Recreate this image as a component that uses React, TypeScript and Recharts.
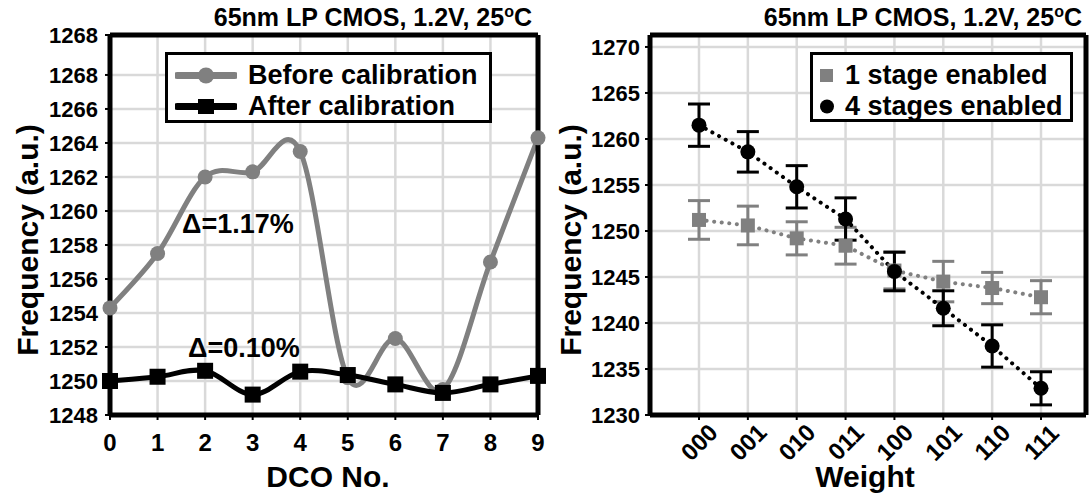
import React from 'react';
import { LineChart, Line, XAxis, YAxis, CartesianGrid, Legend, ErrorBar, Label } from 'recharts';

const FONT = '"Liberation Sans", Arial, sans-serif';
const GRAY = '#808080';
const GRID = '#d9d9d9';

// left panel: DCO spread before / after calibration
const dcoNo = ['0', '1', '2', '3', '4', '5', '6', '7', '8', '9'];
const beforeCal = [1254.3, 1257.5, 1262.0, 1262.3, 1263.5, 1250.2, 1252.5, 1249.5, 1257.0, 1264.3];
const afterCal = [1250.0, 1250.25, 1250.6, 1249.2, 1250.55, 1250.35, 1249.8, 1249.3, 1249.8, 1250.3];
const dcoTicks = [1248, 1250, 1252, 1254, 1256, 1258, 1260, 1262, 1264, 1266, 1268, 1270.35];
const dcoTickLabels = ['1248', '1250', '1252', '1254', '1256', '1258', '1260', '1262', '1264', '1266', '1268', '1268'];

// right panel: frequency vs weight code
const weights = ['000', '001', '010', '011', '100', '101', '110', '111'];
const oneStage = [1251.2, 1250.6, 1249.2, 1248.4, 1245.7, 1244.5, 1243.8, 1242.8];
const oneStageErr = [2.1, 2.1, 1.8, 2.0, 2.0, 2.2, 1.7, 1.8];
const fourStages = [1261.5, 1258.6, 1254.8, 1251.3, 1245.6, 1241.6, 1237.5, 1232.9];
const fourStagesErr = [2.3, 2.2, 2.3, 2.3, 2.1, 1.9, 2.3, 1.8];
const weightTicks = [1230, 1235, 1240, 1245, 1250, 1255, 1260, 1265, 1270];

const dcoData = dcoNo.map((d, i) => ({ dco: d, before: beforeCal[i], after: afterCal[i] }));
const weightData = weights.map((w, i) => ({
  w,
  one: oneStage[i],
  oneErr: oneStageErr[i],
  four: fourStages[i],
  fourErr: fourStagesErr[i],
}));

// excel-like smoothed line: catmull-rom through every point
const excelSmooth = (ctx: any) => {
  let pts: number[][] = [];
  return {
    areaStart() {},
    areaEnd() {},
    lineStart() {
      pts = [];
    },
    point(x: number, y: number) {
      pts.push([x, y]);
    },
    lineEnd() {
      const n = pts.length;
      if (!n) return;
      ctx.moveTo(pts[0][0], pts[0][1]);
      for (let i = 0; i < n - 1; i++) {
        const p0 = pts[Math.max(i - 1, 0)];
        const p1 = pts[i];
        const p2 = pts[i + 1];
        const p3 = pts[Math.min(i + 2, n - 1)];
        ctx.bezierCurveTo(
          p1[0] + (p2[0] - p0[0]) / 6,
          p1[1] + (p2[1] - p0[1]) / 6,
          p2[0] - (p3[0] - p1[0]) / 6,
          p2[1] - (p3[1] - p1[1]) / 6,
          p2[0],
          p2[1]
        );
      }
    },
  };
};

const circleDot = (fill: string, r: number) => (p: any) =>
  <circle key={`c${p.index}`} cx={p.cx} cy={p.cy} r={r} fill={fill} />;
const squareDot = (fill: string, s: number) => (p: any) =>
  <rect key={`s${p.index}`} x={p.cx - s / 2} y={p.cy - s / 2} width={s} height={s} fill={fill} />;

const tickStyle = { fontSize: 22, fontWeight: 'bold', fill: '#000', fontFamily: FONT };
const titleStyle = { fontSize: 30, fontWeight: 'bold', fill: '#000', fontFamily: FONT };
const frame = { stroke: '#000', strokeWidth: 5 };

const yTitle = (cx: number) => () => (
  <text x={cx} y={240} transform={`rotate(-90 ${cx} 240)`} textAnchor="middle" dominantBaseline="central" style={titleStyle}>
    Frequency (a.u.)
  </text>
);
const xTitle = (cx: number, text: string) => () => (
  <text x={cx} y={487} textAnchor="middle" style={titleStyle}>
    {text}
  </text>
);

const SlantTick = ({ x, y, payload }: any) => (
  <g transform={`translate(${x},${y + 20}) rotate(-45)`}>
    <text textAnchor="middle" dy="0.36em" style={{ ...tickStyle, fontSize: 24 }}>
      {payload.value}
    </text>
  </g>
);

const legendBox = (w: number, h: number) => ({
  boxSizing: 'border-box' as const,
  width: w,
  height: h,
  border: '3px solid #000',
  background: '#fff',
  paddingTop: 5,
  fontFamily: FONT,
  fontWeight: 'bold' as const,
  fontSize: 27,
  color: '#000',
});

const dcoLegend = () => (
  <div style={legendBox(327, 71)}>
    {[
      { name: 'Before calibration', color: GRAY, sq: false },
      { name: 'After calibration', color: '#000', sq: true },
    ].map((r) => (
      <div key={r.name} style={{ display: 'flex', alignItems: 'center', height: 31, whiteSpace: 'nowrap' }}>
        <svg width={62} height={31} style={{ marginLeft: 7, marginRight: 11 }}>
          <line x1={2} y1={15.5} x2={60} y2={15.5} stroke={r.color} strokeWidth={7} strokeLinecap="round" />
          {r.sq ? <rect x={23} y={8} width={16} height={15} fill={r.color} /> : <circle cx={31} cy={15.5} r={8} fill={r.color} />}
        </svg>
        <span style={{ lineHeight: '31px' }}>{r.name}</span>
      </div>
    ))}
  </div>
);

const weightLegend = () => (
  <div style={legendBox(263, 70)}>
    {[
      { name: '1 stage enabled', color: GRAY, sq: true },
      { name: '4 stages enabled', color: '#000', sq: false },
    ].map((r) => (
      <div key={r.name} style={{ display: 'flex', alignItems: 'center', height: 31, whiteSpace: 'nowrap' }}>
        <svg width={28} height={31} style={{ marginRight: 4 }}>
          {r.sq ? <rect x={7} y={9} width={13} height={13} fill={r.color} /> : <circle cx={14} cy={15.5} r={7} fill={r.color} />}
        </svg>
        <span style={{ lineHeight: '31px' }}>{r.name}</span>
      </div>
    ))}
  </div>
);

const Title = ({ right }: { right: number }) => (
  <div
    style={{
      position: 'absolute',
      top: 4,
      right,
      fontSize: 25,
      lineHeight: '26px',
      fontWeight: 'bold',
      whiteSpace: 'nowrap',
      fontFamily: FONT,
    }}
  >
    65nm LP CMOS, 1.2V, 25<sup style={{ fontSize: 16, lineHeight: 0 }}>o</sup>C
  </div>
);

const Delta = ({ left, top, text }: { left: number; top: number; text: string }) => (
  <div style={{ position: 'absolute', left, top, fontSize: 27, lineHeight: '31px', fontWeight: 'bold', fontFamily: FONT }}>
    {text}
  </div>
);

function DcoChart() {
  return (
    <LineChart width={546} height={495} data={dcoData} margin={{ top: 0, right: 0, bottom: 0, left: 0 }}>
      <CartesianGrid stroke={GRID} strokeWidth={2.5} />
      <XAxis
        dataKey="dco"
        height={80}
        axisLine={frame}
        tickLine={{ stroke: '#000', strokeWidth: 2 }}
        tickSize={5}
        tickMargin={14}
        tick={{ ...tickStyle, fontSize: 24 }}
        interval={0}
      >
        <Label content={xTitle(328, 'DCO No.')} />
      </XAxis>
      <XAxis xAxisId="top" dataKey="dco" orientation="top" height={35} axisLine={frame} tick={false} tickLine={false} />
      <YAxis
        type="number"
        domain={[1248, 1270.35]}
        ticks={dcoTicks}
        tickFormatter={(v: number, i: number) => dcoTickLabels[i]}
        width={110}
        axisLine={frame}
        tickLine={{ stroke: '#000', strokeWidth: 2 }}
        tickSize={5}
        tickMargin={7}
        tick={tickStyle}
        interval={0}
      >
        <Label content={yTitle(27)} />
      </YAxis>
      <YAxis yAxisId="frame" orientation="right" width={8} type="number" domain={[0, 1]} axisLine={frame} tick={false} tickLine={false} />
      <Legend
        layout="vertical"
        align="center"
        verticalAlign="middle"
        content={dcoLegend}
        wrapperStyle={{ left: 165, top: 52, right: 'auto', bottom: 'auto', width: 327, height: 71 }}
      />
      <Line
        dataKey="before"
        type={excelSmooth as any}
        stroke={GRAY}
        strokeWidth={5}
        dot={circleDot(GRAY, 7.5)}
        activeDot={false}
        isAnimationActive={false}
      />
      <Line
        dataKey="after"
        type={excelSmooth as any}
        stroke="#000"
        strokeWidth={5}
        dot={squareDot('#000', 16)}
        activeDot={false}
        isAnimationActive={false}
      />
    </LineChart>
  );
}

function WeightChart() {
  return (
    <LineChart width={546} height={495} data={weightData} margin={{ top: 0, right: 0, bottom: 0, left: 0 }}>
      <CartesianGrid stroke={GRID} strokeWidth={2.5} />
      <XAxis
        dataKey="w"
        height={80}
        padding={{ left: 49, right: 45 }}
        axisLine={frame}
        tickLine={{ stroke: '#000', strokeWidth: 2 }}
        tickSize={5}
        tick={<SlantTick />}
        interval={0}
      >
        <Label content={xTitle(319, 'Weight')} />
      </XAxis>
      <XAxis xAxisId="top" dataKey="w" orientation="top" height={35} axisLine={frame} tick={false} tickLine={false} />
      <YAxis
        type="number"
        domain={[1230, 1271.3]}
        ticks={weightTicks}
        width={104}
        axisLine={frame}
        tickLine={{ stroke: '#000', strokeWidth: 2 }}
        tickSize={5}
        tickMargin={5}
        tick={tickStyle}
        interval={0}
      >
        <Label content={yTitle(24)} />
      </YAxis>
      <YAxis yAxisId="frame" orientation="right" width={6} type="number" domain={[0, 1]} axisLine={frame} tick={false} tickLine={false} />
      <Legend
        layout="vertical"
        align="center"
        verticalAlign="middle"
        content={weightLegend}
        wrapperStyle={{ left: 264, top: 52, right: 'auto', bottom: 'auto', width: 263, height: 70 }}
      />
      <Line
        dataKey="one"
        stroke={GRAY}
        strokeWidth={4}
        strokeDasharray="0.1 7.5"
        strokeLinecap="round"
        dot={squareDot(GRAY, 14)}
        activeDot={false}
        isAnimationActive={false}
      >
        <ErrorBar dataKey="oneErr" width={11} strokeWidth={3} stroke={GRAY} direction="y" />
      </Line>
      <Line
        dataKey="four"
        stroke="#000"
        strokeWidth={4}
        strokeDasharray="0.1 7.5"
        strokeLinecap="round"
        dot={circleDot('#000', 7.5)}
        activeDot={false}
        isAnimationActive={false}
      >
        <ErrorBar dataKey="fourErr" width={11} strokeWidth={3} stroke="#000" direction="y" />
      </Line>
    </LineChart>
  );
}

export default function App() {
  return (
    <div
      style={{
        position: 'absolute',
        left: 0,
        top: 0,
        width: 1092,
        height: 495,
        background: '#fff',
        overflow: 'hidden',
        fontFamily: FONT,
      }}
    >
      <div style={{ position: 'absolute', left: 0, top: 0 }}>
        <DcoChart />
      </div>
      <div style={{ position: 'absolute', left: 546, top: 0 }}>
        <WeightChart />
      </div>
      <Title right={560} />
      <Title right={10} />
      <Delta left={182} top={209} text="Δ=1.17%" />
      <Delta left={188} top={333} text="Δ=0.10%" />
    </div>
  );
}
